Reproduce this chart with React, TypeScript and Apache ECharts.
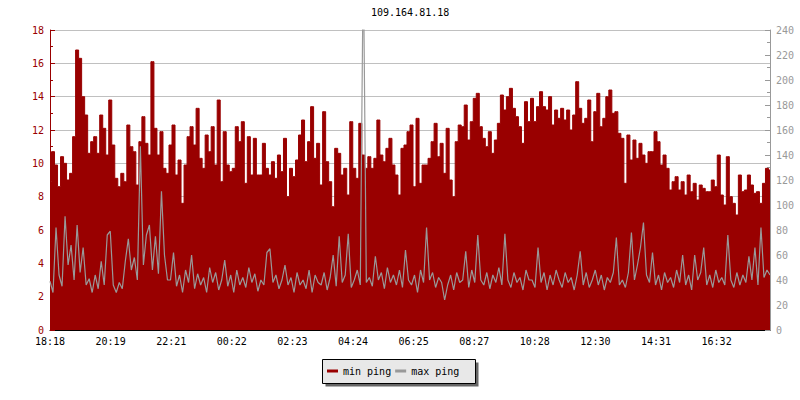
import React, { useEffect, useRef } from 'react';
import * as echarts from 'echarts';

const chartTitle = '109.164.81.18';
const tickLabels = ['18:18', '20:19', '22:21', '00:22', '02:23', '04:24', '06:25', '08:27', '10:28', '12:30', '14:31', '16:32'];
const spanMinutes = 1440;
const tickStep = 121.2;
const seriesNames = ['min ping', 'max ping'];

// min ping (left axis), 240 samples over 24h
const minPing = [
  8.9, 10.7, 9.9, 8.6, 10.4, 10.0, 9.0, 9.4, 11.6, 16.8, 16.3, 14.0, 12.9, 10.6, 11.3, 11.6, 10.6, 12.9, 12.1, 10.5,
  13.8, 11.1, 9.1, 8.6, 9.4, 8.9, 12.3, 11.0, 10.7, 8.7, 11.3, 12.8, 11.2, 10.5, 16.1, 12.1, 10.5, 11.9, 9.7, 9.4,
  11.1, 12.3, 9.3, 10.2, 7.6, 9.9, 11.6, 12.2, 11.1, 13.3, 10.3, 9.7, 11.7, 10.7, 12.2, 9.9, 13.8, 8.9, 11.9, 9.9,
  9.5, 9.7, 12.2, 11.3, 12.5, 8.8, 11.6, 9.3, 11.5, 9.3, 9.3, 11.2, 9.7, 9.3, 10.1, 9.1, 10.5, 9.5, 11.5, 8.0,
  9.7, 9.2, 10.2, 11.7, 12.6, 10.1, 11.3, 13.4, 10.3, 11.2, 8.7, 13.1, 10.1, 8.9, 7.4, 10.9, 10.6, 9.3, 9.7, 8.1,
  12.5, 9.7, 9.1, 12.4, 10.5, 9.7, 10.4, 9.7, 10.3, 12.6, 10.5, 10.1, 10.9, 11.5, 9.9, 9.3, 8.1, 10.9, 11.1, 11.9,
  12.3, 8.6, 12.7, 8.8, 9.9, 9.9, 10.3, 11.3, 12.4, 10.4, 11.2, 9.4, 12.1, 9.0, 8.0, 11.3, 12.3, 12.2, 13.5, 11.4,
  12.5, 13.9, 14.2, 12.2, 11.5, 11.0, 11.9, 10.6, 11.4, 12.4, 14.1, 13.2, 14.0, 14.5, 13.3, 12.8, 12.2, 11.2, 13.7, 12.5,
  13.9, 12.5, 13.4, 14.3, 13.4, 13.2, 14.0, 12.3, 13.2, 12.7, 13.3, 12.6, 13.2, 12.0, 12.9, 14.9, 13.3, 12.4, 12.7, 13.8,
  11.3, 13.1, 14.2, 12.2, 12.7, 14.0, 14.4, 13.0, 13.1, 11.8, 11.5, 8.8, 11.7, 10.2, 11.4, 10.3, 11.2, 10.5, 10.0, 10.7,
  10.7, 11.9, 11.3, 9.9, 10.5, 9.7, 8.4, 8.9, 9.2, 8.4, 8.9, 8.1, 9.3, 8.3, 8.8, 7.8, 8.7, 8.5, 8.3, 8.3,
  9.0, 8.6, 10.5, 8.1, 7.5, 10.4, 8.0, 7.6, 6.9, 9.3, 8.3, 8.4, 9.3, 8.7, 8.2, 8.3, 7.6, 8.8, 9.7, 9.6,
];

// max ping (right axis), 240 samples over 24h
const maxPing = [
  39, 30, 82, 44, 35, 91, 52, 68, 40, 84, 46, 66, 36, 41, 30, 44, 33, 55, 36, 76,
  79, 36, 30, 38, 33, 55, 73, 48, 58, 40, 147, 52, 76, 84, 48, 75, 45, 111, 60, 40,
  40, 62, 35, 44, 30, 48, 38, 60, 33, 45, 36, 42, 30, 50, 38, 46, 32, 40, 56, 35,
  44, 30, 48, 36, 42, 34, 50, 38, 45, 31, 40, 36, 62, 65, 38, 44, 33, 40, 52, 36,
  42, 30, 46, 36, 40, 33, 48, 30, 44, 38, 36, 46, 32, 42, 60, 35, 75, 38, 44, 77,
  34, 40, 48, 36, 300, 38, 42, 35, 59, 40, 46, 33, 50, 38, 44, 36, 48, 34, 64, 40,
  36, 44, 30, 48, 38, 82, 40, 46, 34, 42, 38, 24, 36, 44, 32, 46, 38, 40, 63, 34,
  48, 38, 76, 40, 36, 46, 33, 44, 38, 50, 36, 77, 40, 34, 46, 38, 42, 32, 48, 40,
  40, 34, 66, 38, 46, 32, 44, 36, 48, 40, 34, 46, 38, 42, 32, 44, 63, 36, 46, 34,
  40, 48, 36, 44, 32, 42, 38, 46, 74, 36, 40, 34, 46, 78, 40, 52, 66, 86, 44, 38,
  62, 36, 44, 32, 46, 38, 42, 34, 48, 38, 60, 36, 44, 32, 60, 40, 46, 66, 36, 44,
  34, 48, 38, 42, 36, 76, 40, 34, 46, 36, 44, 38, 59, 40, 66, 36, 82, 42, 48, 44,
];

const RED = '#990000';
const GREY = '#999999';
const MONO = 'DejaVu Sans Mono';

export default function App() {
  const ref = useRef<HTMLDivElement>(null);
  useEffect(() => {
    if (!ref.current) return;
    const chart = echarts.init(ref.current, null, { renderer: 'svg' });
    const n = minPing.length;
    const xs = minPing.map((_, i) => (i * spanMinutes) / (n - 1));
    chart.setOption({
      animation: false,
      backgroundColor: '#ffffff',
      title: {
        text: chartTitle,
        left: 371,
        top: 7,
        padding: 0,
        textStyle: { fontFamily: MONO, fontSize: 10, fontWeight: 'normal', color: '#000' },
      },
      grid: { left: 50, right: 30, top: 30, bottom: 70 },
      graphic: [
        { type: 'rect', z: 0, shape: { x: 325.5, y: 362.5, width: 153, height: 24 }, style: { fill: '#666666' } },
        { type: 'rect', z: 1, shape: { x: 322.5, y: 359.5, width: 153, height: 24 }, style: { fill: '#e8e8e8', stroke: '#000', lineWidth: 1 } },
      ],
      legend: {
        data: seriesNames,
        left: 327,
        top: 365,
        padding: 0,
        itemGap: 4,
        itemWidth: 11,
        itemHeight: 3,
        icon: 'rect',
        z: 10,
        textStyle: { fontFamily: MONO, fontSize: 10, color: '#000', lineHeight: 12 },
      },
      xAxis: {
        type: 'value',
        min: 0,
        max: spanMinutes,
        interval: tickStep,
        axisLine: { lineStyle: { color: '#000' } },
        axisTick: { inside: true, length: 5, lineStyle: { color: '#000' } },
        axisLabel: {
          fontFamily: MONO,
          fontSize: 10,
          color: '#000',
          margin: 6,
          showMaxLabel: false,
          formatter: (v: number) => tickLabels[Math.round(v / tickStep)] ?? '',
        },
        splitLine: { show: false },
      },
      yAxis: [
        {
          type: 'value',
          position: 'left',
          min: 0,
          max: 18,
          interval: 2,
          axisLine: { show: true, lineStyle: { color: RED } },
          axisTick: { show: true, inside: true, length: 5, lineStyle: { color: RED } },
          minorTick: { show: true, splitNumber: 2, length: 3, lineStyle: { color: RED } },
          axisLabel: { color: RED, fontFamily: MONO, fontSize: 10, margin: 6 },
          splitLine: { show: true, lineStyle: { color: '#c0c0c0', width: 1 } },
        },
        {
          type: 'value',
          position: 'right',
          min: 0,
          max: 240,
          interval: 20,
          axisLine: { show: true, lineStyle: { color: GREY } },
          axisTick: { show: true, inside: true, length: 5, lineStyle: { color: GREY } },
          minorTick: { show: true, splitNumber: 2, length: 3, lineStyle: { color: GREY } },
          axisLabel: { color: GREY, fontFamily: MONO, fontSize: 10, margin: 6 },
          splitLine: { show: false },
        },
      ],
      series: [
        {
          name: seriesNames[0],
          type: 'line',
          yAxisIndex: 0,
          step: 'middle',
          symbol: 'none',
          data: xs.map((x, i) => [x, minPing[i]]),
          lineStyle: { width: 1, color: RED },
          itemStyle: { color: RED },
          areaStyle: { color: RED, opacity: 1 },
          z: 2,
        },
        {
          name: seriesNames[1],
          type: 'line',
          yAxisIndex: 1,
          symbol: 'none',
          data: xs.map((x, i) => [x, maxPing[i]]),
          lineStyle: { width: 1.2, color: GREY },
          itemStyle: { color: GREY },
          z: 3,
        },
      ],
    });
    return () => chart.dispose();
  }, []);
  return <div ref={ref} style={{ position: 'fixed', left: 0, top: 0, width: 800, height: 400 }} />;
}
